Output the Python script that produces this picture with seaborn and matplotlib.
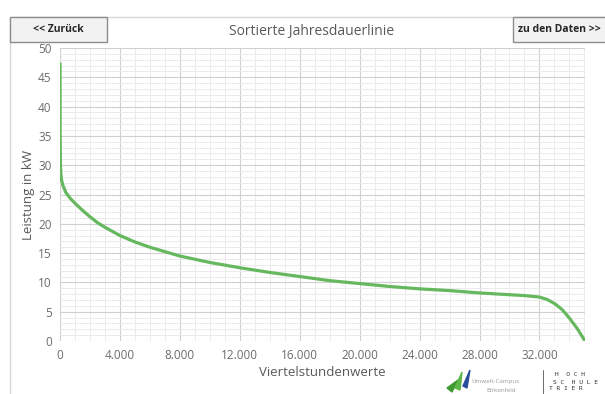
import numpy as np
import pandas as pd
import matplotlib
matplotlib.use("Agg")
import matplotlib.pyplot as plt
import seaborn as sns
from matplotlib.ticker import MultipleLocator, FuncFormatter
from matplotlib.patches import Rectangle, Polygon

# --- data ---
viertelstunden = [0, 10, 30, 60, 100, 200, 400, 700, 1000, 1500, 2000, 2500, 3000,
                  4000, 5000, 6000, 8000, 10000, 12000, 14000, 16000, 18000, 20000,
                  22000, 24000, 26000, 28000, 30000, 31000, 32000, 32500, 33000,
                  33500, 34000, 34500, 35040]
leistung_kw = [47.5, 35, 30, 28.5, 27.5, 26.5, 25.3, 24.3, 23.5, 22.3, 21.2, 20.2, 19.4,
               18.0, 16.9, 16.0, 14.5, 13.4, 12.5, 11.7, 11.0, 10.3, 9.8,
               9.3, 8.9, 8.6, 8.2, 7.9, 7.75, 7.5, 7.1, 6.4,
               5.4, 3.9, 2.2, 0.0]
x_ticks = [0, 4000, 8000, 12000, 16000, 20000, 24000, 28000, 32000]
y_ticks = [0, 5, 10, 15, 20, 25, 30, 35, 40, 45, 50]

df = pd.DataFrame({"x": viertelstunden, "y": leistung_kw})

sns.set_theme(style="white")
plt.rcParams["font.family"] = ["Open Sans", "DejaVu Sans"]

W, H = 605, 394
fig = plt.figure(figsize=(W / 100, H / 100), dpi=100)
ax = fig.add_axes([60 / W, 1 - 341 / H, (585 - 60) / W, (341 - 48) / H])

sns.lineplot(data=df, x="x", y="y", ax=ax, color="#66b85e", linewidth=2.3,
             solid_capstyle="butt")

ax.set_xlim(0, 35040)
ax.set_ylim(0, 50)
ax.set_xticks(x_ticks)
ax.set_yticks(y_ticks)
ax.xaxis.set_minor_locator(MultipleLocator(1000))
ax.yaxis.set_minor_locator(MultipleLocator(1))
ax.xaxis.set_major_formatter(FuncFormatter(lambda v, p: f"{int(v):,}".replace(",", ".")))
ax.grid(which="major", color="#d0d0d0", linewidth=0.8)
ax.grid(which="minor", color="#ebebeb", linewidth=0.7)
ax.set_axisbelow(True)
for s in ax.spines.values():
    s.set_visible(False)
ax.tick_params(axis="both", which="both", length=0, colors="#6b6b6b", labelsize=8.5, pad=6)
ax.set_xlabel("Viertelstundenwerte", color="#595959", fontsize=9.5, labelpad=3)
ax.set_ylabel("Leistung in kW", color="#595959", fontsize=9.5, labelpad=2)

# frame and title
fig.add_artist(Rectangle((10 / W, -0.01), 1.0, 1 - 17 / H + 0.01, transform=fig.transFigure,
                         fill=False, edgecolor="#d9d9d9", linewidth=1))
fig.text(312 / W, 1 - 31 / H, "Sortierte Jahresdauerlinie", ha="center", va="center",
         fontsize=10, color="#595959")

# buttons
for (x0, x1, label) in [(10, 107, "<< Zurück"), (513, 612, "zu den Daten >>")]:
    fig.add_artist(Rectangle((x0 / W, 1 - 42 / H), (x1 - x0) / W, 25 / H,
                             transform=fig.transFigure, facecolor="#f2f2f2",
                             edgecolor="#8c8c8c", linewidth=1))
    fig.text((x0 + x1) / 2 / W if x1 < W else (x0 + 46) / W, 1 - 29 / H, label,
             ha="center", va="center", fontsize=7.5, color="#262626", fontweight="bold")

# logo (approximation)
fig.add_artist(Polygon([[447 / W, 1 - 388 / H], [458 / W, 1 - 380 / H], [452 / W, 1 - 392 / H]],
                       closed=True, transform=fig.transFigure, color="#3f9a32"))
fig.add_artist(Polygon([[455 / W, 1 - 388 / H], [462 / W, 1 - 372 / H], [460 / W, 1 - 390 / H]],
                       closed=True, transform=fig.transFigure, color="#5bb645"))
fig.add_artist(Polygon([[463 / W, 1 - 386 / H], [470 / W, 1 - 370 / H], [467 / W, 1 - 388 / H]],
                       closed=True, transform=fig.transFigure, color="#2a4d9a"))
fig.text(471 / W, 1 - 382 / H, "Umwelt-Campus", fontsize=4.5, color="#9a9a9a", va="center")
fig.text(486 / W, 1 - 390 / H, "Birkenfeld", fontsize=4.5, color="#9a9a9a", va="center")
fig.add_artist(plt.Line2D([543 / W, 543 / W], [1 - 370 / H, 0], transform=fig.transFigure,
                          color="#555555", linewidth=0.6))
fig.text(555 / W, 1 - 375 / H, "H  O C H", fontsize=4.5, color="#333333", va="center",
         family="DejaVu Sans Mono")
fig.text(553 / W, 1 - 382 / H, "S C  H U L E", fontsize=4.5, color="#333333", va="center",
         family="DejaVu Sans Mono")
fig.text(549 / W, 1 - 389 / H, "T R I E R", fontsize=4.5, color="#333333", va="center",
         family="DejaVu Sans Mono")

fig.savefig("out.png", dpi=100)
